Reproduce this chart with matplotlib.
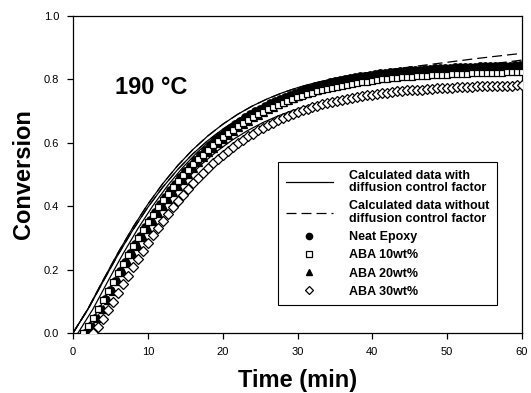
import numpy as np
import matplotlib
matplotlib.use("Agg")
import matplotlib.pyplot as plt
from matplotlib.lines import Line2D

plt.rcParams['font.family'] = ['Liberation Sans', 'DejaVu Sans']

# ---------------- data ----------------
sample_interval = 2.0 / 3.0          # min between measured points (40 s)
start_neat, start_aba10, start_aba20, start_aba30 = 1.67, 1.33, 2.0, 2.67

neat_epoxy = [0.000, 0.021, 0.048, 0.076, 0.106, 0.136, 0.165, 0.195, 0.224, 0.252,
              0.280, 0.307, 0.333, 0.358, 0.383, 0.406, 0.429, 0.450, 0.471, 0.491,
              0.510, 0.528, 0.546, 0.562, 0.578, 0.593, 0.608, 0.621, 0.634, 0.647,
              0.658, 0.669, 0.680, 0.690, 0.699, 0.708, 0.716, 0.724, 0.732, 0.739,
              0.746, 0.752, 0.758, 0.764, 0.769, 0.774, 0.778, 0.783, 0.787, 0.791,
              0.794, 0.798, 0.801, 0.804, 0.807, 0.810, 0.812, 0.815, 0.817, 0.819,
              0.821, 0.823, 0.824, 0.826, 0.827, 0.829, 0.830, 0.831, 0.832, 0.833,
              0.835, 0.835, 0.836, 0.837, 0.838, 0.839, 0.839, 0.840, 0.840, 0.841,
              0.841, 0.842, 0.842, 0.843, 0.843, 0.843, 0.844, 0.844]

aba10 = [0.000, 0.021, 0.047, 0.075, 0.103, 0.132, 0.161, 0.190, 0.218, 0.246,
         0.273, 0.299, 0.324, 0.349, 0.373, 0.396, 0.418, 0.439, 0.459, 0.478,
         0.497, 0.515, 0.532, 0.548, 0.563, 0.578, 0.592, 0.605, 0.618, 0.630,
         0.641, 0.652, 0.662, 0.672, 0.681, 0.690, 0.698, 0.706, 0.713, 0.720,
         0.726, 0.733, 0.738, 0.744, 0.749, 0.754, 0.758, 0.763, 0.767, 0.770,
         0.774, 0.777, 0.780, 0.783, 0.786, 0.789, 0.791, 0.793, 0.796, 0.798,
         0.800, 0.801, 0.803, 0.805, 0.806, 0.807, 0.809, 0.810, 0.811, 0.812,
         0.813, 0.814, 0.815, 0.815, 0.816, 0.817, 0.817, 0.818, 0.819, 0.819,
         0.820, 0.820, 0.820, 0.821, 0.821, 0.822, 0.822, 0.822, 0.822]

aba20 = [0.000, 0.021, 0.047, 0.075, 0.104, 0.134, 0.163, 0.192, 0.221, 0.249,
         0.276, 0.303, 0.328, 0.353, 0.377, 0.400, 0.423, 0.444, 0.465, 0.484,
         0.503, 0.521, 0.538, 0.555, 0.570, 0.585, 0.599, 0.613, 0.625, 0.637,
         0.649, 0.660, 0.670, 0.680, 0.689, 0.698, 0.706, 0.714, 0.722, 0.729,
         0.735, 0.741, 0.747, 0.753, 0.758, 0.763, 0.767, 0.772, 0.776, 0.780,
         0.783, 0.787, 0.790, 0.793, 0.796, 0.798, 0.801, 0.803, 0.805, 0.807,
         0.809, 0.811, 0.813, 0.814, 0.816, 0.817, 0.818, 0.820, 0.821, 0.822,
         0.823, 0.824, 0.824, 0.825, 0.826, 0.827, 0.827, 0.828, 0.828, 0.829,
         0.830, 0.830, 0.830, 0.831, 0.831, 0.832, 0.832, 0.832]

aba30 = [0.000, 0.020, 0.044, 0.071, 0.098, 0.126, 0.153, 0.180, 0.207, 0.234,
         0.259, 0.284, 0.308, 0.332, 0.354, 0.376, 0.397, 0.417, 0.436, 0.455,
         0.472, 0.489, 0.505, 0.521, 0.535, 0.549, 0.563, 0.575, 0.587, 0.599,
         0.609, 0.620, 0.629, 0.639, 0.647, 0.655, 0.663, 0.671, 0.678, 0.684,
         0.690, 0.696, 0.702, 0.707, 0.712, 0.716, 0.721, 0.725, 0.729, 0.732,
         0.735, 0.739, 0.742, 0.745, 0.747, 0.750, 0.752, 0.754, 0.756, 0.758,
         0.760, 0.762, 0.763, 0.765, 0.766, 0.767, 0.768, 0.770, 0.771, 0.772,
         0.773, 0.773, 0.774, 0.775, 0.776, 0.776, 0.777, 0.778, 0.778, 0.779,
         0.779, 0.779, 0.780, 0.780, 0.780, 0.781, 0.781]

# calculated curves (2-min grid)
calc_step = 2.0
calc_start = [0.0, 0.0, 0.67, 1.33]
calc_with_neat = [0.000, 0.0765, 0.1654, 0.2523, 0.3330, 0.4061, 0.4712, 0.5285, 0.5783, 0.6214,
                  0.6583, 0.6898, 0.7165, 0.7390, 0.7580, 0.7738, 0.7870, 0.7980, 0.8071, 0.8146,
                  0.8208, 0.8259, 0.8301, 0.8335, 0.8363, 0.8385, 0.8404, 0.8419, 0.8431, 0.8441, 0.8449]
calc_with_aba10 = [0.000, 0.0747, 0.1615, 0.2463, 0.3251, 0.3965, 0.4601, 0.5160, 0.5647, 0.6067,
                   0.6427, 0.6735, 0.6996, 0.7216, 0.7401, 0.7555, 0.7684, 0.7792, 0.7881, 0.7954,
                   0.8014, 0.8064, 0.8105, 0.8138, 0.8165, 0.8188, 0.8206, 0.8220, 0.8232, 0.8242, 0.8249]
calc_with_aba20 = [0.000, 0.0756, 0.1635, 0.2493, 0.3291, 0.4013, 0.4657, 0.5222, 0.5715, 0.6141,
                   0.6505, 0.6816, 0.7080, 0.7303, 0.7490, 0.7647, 0.7777, 0.7886, 0.7976, 0.8050,
                   0.8111, 0.8162, 0.8203, 0.8237, 0.8264, 0.8287, 0.8305, 0.8320, 0.8331, 0.8341]
calc_with_aba30 = [0.000, 0.0708, 0.1532, 0.2336, 0.3082, 0.3760, 0.4362, 0.4892, 0.5354, 0.5752,
                   0.6094, 0.6385, 0.6633, 0.6841, 0.7016, 0.7163, 0.7285, 0.7387, 0.7471, 0.7541,
                   0.7598, 0.7646, 0.7684, 0.7716, 0.7741, 0.7763, 0.7780, 0.7793, 0.7805, 0.7814]
calc_without_neat = [0.000, 0.0765, 0.1654, 0.2523, 0.3330, 0.4061, 0.4712, 0.5285, 0.5783, 0.6214,
                     0.6583, 0.6898, 0.7165, 0.7390, 0.7580, 0.7738, 0.7870, 0.7980, 0.8080, 0.8165,
                     0.8235, 0.8300, 0.8360, 0.8420, 0.8480, 0.8540, 0.8600, 0.8660, 0.8715, 0.8770, 0.8820]
calc_without_aba10 = [0.000, 0.0747, 0.1615, 0.2463, 0.3251, 0.3965, 0.4601, 0.5160, 0.5647, 0.6067,
                      0.6427, 0.6735, 0.6996, 0.7216, 0.7401, 0.7555, 0.7684, 0.7792, 0.7881, 0.7960,
                      0.8025, 0.8080, 0.8145, 0.8205, 0.8265, 0.8320, 0.8375, 0.8430, 0.8490, 0.8550, 0.8610]

x_ticks = [0, 10, 20, 30, 40, 50, 60]
y_ticks = [0.0, 0.2, 0.4, 0.6, 0.8, 1.0]

# ---------------- plot ----------------
fig = plt.figure(figsize=(5.31, 3.93), dpi=100)
ax = fig.add_axes([73 / 531, 1 - 333 / 393, (522 - 73) / 531, (333 - 16) / 393])


def grid(start, step, n):
    return start + step * np.arange(n)


lw = 0.9
dash = (0, (8, 4))
for start, vals in zip(calc_start, [calc_with_neat, calc_with_aba10, calc_with_aba20, calc_with_aba30]):
    ax.plot(grid(start, calc_step, len(vals)), vals, color='black', lw=lw, ls='-', zorder=2)
for vals in [calc_without_neat, calc_without_aba10]:
    ax.plot(grid(0.0, calc_step, len(vals)), vals, color='black', lw=lw, ls=dash, zorder=2)

ms = 5.4
mew = 0.9
ax.plot(grid(start_neat, sample_interval, len(neat_epoxy)), neat_epoxy, ls='none', marker='o',
        ms=ms, mfc='black', mec='black', mew=mew, zorder=3)
ax.plot(grid(start_aba20, sample_interval, len(aba20)), aba20, ls='none', marker='^',
        ms=ms, mfc='black', mec='black', mew=mew, zorder=3)
ax.plot(grid(start_aba10, sample_interval, len(aba10)), aba10, ls='none', marker='s',
        ms=ms - 0.6, mfc='white', mec='black', mew=mew, zorder=4)
ax.plot(grid(start_aba30, sample_interval, len(aba30)), aba30, ls='none', marker='D',
        ms=ms - 0.8, mfc='white', mec='black', mew=mew, zorder=5)

ax.set_xlim(0, 60)
ax.set_ylim(0, 1.0)
ax.set_xticks(x_ticks)
ax.set_xticklabels([str(v) for v in x_ticks])
ax.set_yticks(y_ticks)
ax.set_yticklabels([f"{v:.1f}" for v in y_ticks])
ax.tick_params(direction='out', length=4, width=0.9, labelsize=8)
ax.tick_params(axis='x', pad=6)
ax.tick_params(axis='y', pad=6)
for s in ax.spines.values():
    s.set_linewidth(0.9)

ax.set_xlabel('Time (min)', fontsize=17, fontweight='bold', labelpad=9)
ax.set_ylabel('Conversion', fontsize=17, fontweight='bold', labelpad=6)

ax.text(5.6, 0.773, '190 \u00b0C', fontsize=17, fontweight='bold',
        va='center', ha='left')

handles = [
    Line2D([], [], color='black', lw=lw, ls='-'),
    Line2D([], [], color='black', lw=lw, ls=dash),
    Line2D([], [], ls='none', marker='o', ms=4.5, mfc='black', mec='black'),
    Line2D([], [], ls='none', marker='s', ms=4, mfc='white', mec='black', mew=mew),
    Line2D([], [], ls='none', marker='^', ms=4.5, mfc='black', mec='black'),
    Line2D([], [], ls='none', marker='D', ms=4, mfc='white', mec='black', mew=mew),
]
labels = ['Calculated data with\ndiffusion control factor',
          'Calculated data without\ndiffusion control factor',
          'Neat Epoxy', 'ABA 10wt%', 'ABA 20wt%', 'ABA 30wt%']
leg = ax.legend(handles, labels, loc='upper left', bbox_to_anchor=(0.4566, 0.539),
                prop={'weight': 'bold', 'size': 9}, frameon=True, fancybox=False,
                edgecolor='black', framealpha=1, handlelength=3.8, handletextpad=1.3,
                labelspacing=0.5, borderpad=0.6, borderaxespad=0)
leg.get_frame().set_linewidth(0.8)
for t in leg.get_texts():
    t.set_linespacing(1.05)

fig.savefig('out.png', dpi=100)
